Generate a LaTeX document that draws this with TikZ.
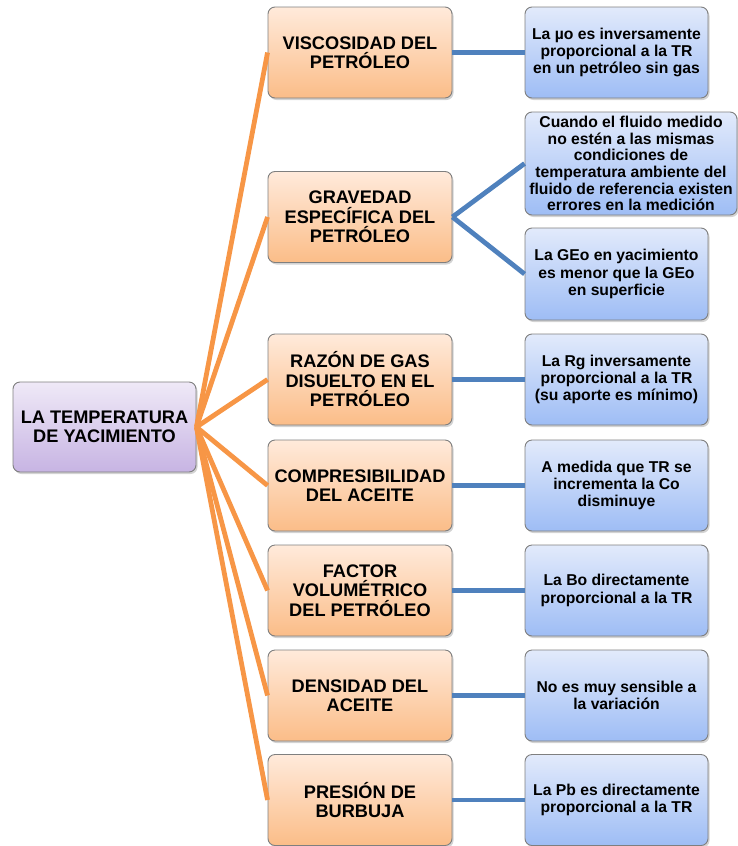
\documentclass[tikz,border=0pt]{standalone}
\usepackage{fontspec}
\setmainfont{Liberation Sans}
\usetikzlibrary{shadows}
\definecolor{naranja}{HTML}{F79646}
\definecolor{azul}{HTML}{4F81BD}
\definecolor{borde}{HTML}{7F7F7F}
\definecolor{lilaA}{HTML}{EFE9F7}
\definecolor{lilaB}{HTML}{C7B4E3}
\definecolor{naranjaA}{HTML}{FFEADB}
\definecolor{naranjaB}{HTML}{FBBD88}
\definecolor{azulA}{HTML}{E2EAFB}
\definecolor{azulB}{HTML}{9EBDF5}
\tikzset{
  caja/.style = {rectangle, rounded corners=7pt, draw=borde, line width=0.9pt,
    align=center, font=\bfseries, inner sep=2pt,
    drop shadow={shadow xshift=1.5pt, shadow yshift=-2pt, opacity=0.35}},
  tempbox/.style = {caja, top color=lilaA, bottom color=lilaB,
    minimum width=183pt, minimum height=90pt,
    font=\bfseries\fontsize{18.2}{19}\selectfont},
  propbox/.style = {caja, top color=naranjaA, bottom color=naranjaB,
    minimum width=184pt, minimum height=91pt,
    font=\bfseries\fontsize{18.2}{19.5}\selectfont},
  notabox/.style = {caja, top color=azulA, bottom color=azulB,
    minimum width=183pt, minimum height=91pt,
    font=\bfseries\fontsize{15.7}{17.3}\selectfont},
  ramaT/.style = {naranja, line width=4.8pt},
  ramaP/.style = {azul, line width=4.8pt}
}

\begin{document}
\begin{tikzpicture}[x=1pt,y=1pt]
  \useasboundingbox (0,0) rectangle (738,-846);

  \node[tempbox] (temp) at (104.5,-427) {LA TEMPERATURA\\DE YACIMIENTO};

  % propiedades
  \node[propbox] (visc) at (360,-52.5) {VISCOSIDAD DEL\\PETRÓLEO};
  \node[propbox] (grav) at (360,-217) {GRAVEDAD\\ESPECÍFICA DEL\\PETRÓLEO};
  \node[propbox] (rgas) at (360,-379.5) {RAZÓN DE GAS\\DISUELTO EN EL\\PETRÓLEO};
  \node[propbox] (comp) at (360,-485.5) {COMPRESIBILIDAD\\DEL ACEITE};
  \node[propbox] (fvol) at (360,-590.5) {FACTOR\\VOLUMÉTRICO\\DEL PETRÓLEO};
  \node[propbox] (dens) at (360,-695.5) {DENSIDAD DEL\\ACEITE};
  \node[propbox] (pbur) at (360,-800) {PRESIÓN DE\\BURBUJA};

  % efectos
  \node[notabox] (nvisc) at (616.5,-52.5) {La µo es inversamente\\proporcional a la TR\\en un petróleo sin gas};
  \node[notabox, minimum width=212pt, minimum height=103pt,
    font=\bfseries\fontsize{15.7}{16.6}\selectfont] (ngrav1) at (631,-163.5)
    {Cuando el fluido medido\\no estén a las mismas\\condiciones de\\temperatura ambiente del\\fluido de referencia existen\\errores en la medición};
  \node[notabox, minimum height=92pt] (ngrav2) at (616.5,-274) {La GEo en yacimiento\\es menor que la GEo\\en superficie};
  \node[notabox] (nrgas) at (616.5,-379.5) {La Rg inversamente\\proporcional a la TR\\(su aporte es mínimo)};
  \node[notabox] (ncomp) at (616.5,-485.5) {A medida que TR se\\incrementa la Co\\disminuye};
  \node[notabox] (nfvol) at (616.5,-590.5) {La Bo directamente\\proporcional a la TR};
  \node[notabox] (ndens) at (616.5,-695.5) {No es muy sensible a\\la variación};
  \node[notabox] (npbur) at (616.5,-800) {La Pb es directamente\\proporcional a la TR};

  \foreach \p in {visc,grav,rgas,comp,fvol,dens,pbur}
    \draw[ramaT] (temp.east) -- (\p.west);
  \foreach \p/\n in {visc/nvisc,grav/ngrav1,grav/ngrav2,rgas/nrgas,comp/ncomp,fvol/nfvol,dens/ndens,pbur/npbur}
    \draw[ramaP] (\p.east) -- (\n.west);
\end{tikzpicture}
\end{document}
